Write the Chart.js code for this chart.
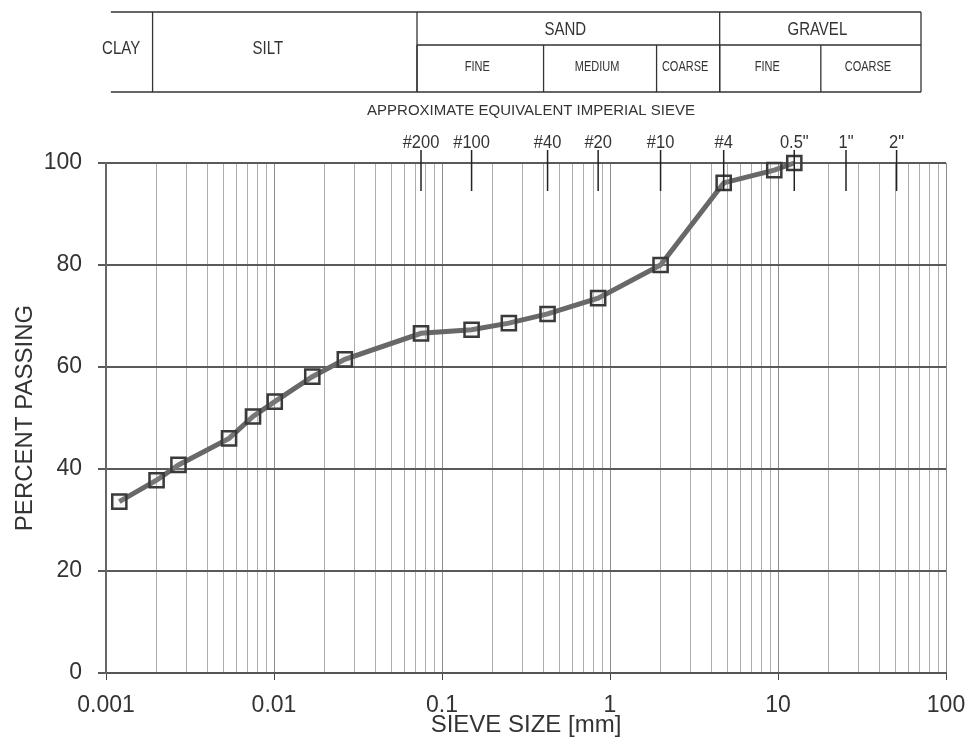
<!DOCTYPE html>
<html>
<head>
<meta charset="utf-8">
<title>Grain size distribution</title>
<script src="https://cdn.jsdelivr.net/npm/chart.js@4.4.1/dist/chart.umd.min.js"></script>
<style>
  html, body { margin: 0; padding: 0; background: #fff; }
  #wrap { width: 967px; height: 737px; }
</style>
</head>
<body>
<div id="wrap"><canvas id="gsd" width="967" height="737"></canvas></div>
<script>
// sieve analysis (sizes in mm, percent passing)
const sieveSizes = [0.0012, 0.002, 0.0027, 0.0054, 0.0075, 0.0101, 0.0169, 0.0264,
                    0.075, 0.15, 0.25, 0.425, 0.85, 2.0, 4.75, 9.5, 12.5];
const percentPassing = [33.6, 37.8, 40.8, 46.0, 50.3, 53.2, 58.1, 61.5,
                        66.6, 67.3, 68.6, 70.4, 73.5, 80.0, 96.1, 98.6, 100];

// x axis decades and their labels
const decadeValues = [0.001, 0.01, 0.1, 1, 10, 100];
const decadeLabels = ['0.001', '0.01', '0.1', '1', '10', '100'];

// imperial sieve marks along the top
const imperialSizes = [0.075, 0.15, 0.425, 0.85, 2.0, 4.75, 12.5, 25.4, 50.8];
const imperialLabels = ['#200', '#100', '#40', '#20', '#10', '#4', '0.5"', '1"', '2"'];

// soil classification header (bounds in mm)
const headerCells = [
  { text: 'CLAY',   from: 0.00113, to: 0.002, row: 'full', at: 0.0013, big: true },
  { text: 'SILT',   from: 0.002,   to: 0.075, row: 'full', at: 0.0097, big: true },
  { text: 'SAND',   from: 0.075,   to: 4.75,  row: 'top',  big: true },
  { text: 'GRAVEL', from: 4.75,    to: 75,    row: 'top',  big: true },
  { text: 'FINE',   from: 0.075,   to: 0.425, row: 'bottom' },
  { text: 'MEDIUM', from: 0.425,   to: 2.0,   row: 'bottom' },
  { text: 'COARSE', from: 2.0,     to: 4.75,  row: 'bottom' },
  { text: 'FINE',   from: 4.75,    to: 19,    row: 'bottom' },
  { text: 'COARSE', from: 19,      to: 75,    row: 'bottom' }
];

const FONT = '"Liberation Sans", Arial, sans-serif';

// minor + major grid positions for the log axis
const gridValues = [];
decadeValues.forEach((d, i) => {
  if (i === decadeValues.length - 1) { gridValues.push(d); return; }
  for (let m = 1; m <= 9; m++) gridValues.push(+(d * m).toPrecision(3));
});

const isDecade = v => Math.abs(Math.log10(v) - Math.round(Math.log10(v))) < 1e-6;

function drawText(ctx, txt, x, y, size, sy) {
  ctx.save();
  ctx.translate(x, y);
  ctx.scale(1, sy || 1);
  ctx.font = size + 'px ' + FONT;
  ctx.textAlign = 'center';
  ctx.textBaseline = 'middle';
  ctx.fillText(txt, 0, 0);
  ctx.restore();
}

const headerPlugin = {
  id: 'soilHeader',
  afterDatasetsDraw(chart) {
    const ctx = chart.ctx;
    const xs = chart.scales.x;
    const shift = -4;
    const px = v => xs.getPixelForValue(v) + shift;
    const yTop = 12, yMid = 45, yBot = 92;

    ctx.save();
    ctx.strokeStyle = '#333';
    ctx.lineWidth = 1.3;
    ctx.fillStyle = '#333';

    const left = px(headerCells[0].from);
    const right = px(75);
    ctx.beginPath();
    ctx.moveTo(left, yTop); ctx.lineTo(right, yTop);
    ctx.moveTo(left, yBot); ctx.lineTo(right, yBot);
    ctx.moveTo(px(0.075), yMid); ctx.lineTo(right, yMid);
    ctx.stroke();

    headerCells.forEach(c => {
      const x0 = px(c.from), x1 = px(c.to);
      const y0 = c.row === 'bottom' ? yMid : yTop;
      if (c.from !== headerCells[0].from) {
        ctx.beginPath();
        ctx.moveTo(x0, y0); ctx.lineTo(x0, yBot);
        ctx.stroke();
      }
      const cx = c.at ? px(c.at) : (x0 + x1) / 2 - 3;
      const cy = c.row === 'full' ? 49 : (c.row === 'top' ? 30 : 67);
      drawText(ctx, c.text, cx, cy, c.big ? 15 : 11, 1.25);
    });
    ctx.beginPath();
    ctx.moveTo(right, yTop); ctx.lineTo(right, yBot);
    ctx.stroke();

    drawText(ctx, 'APPROXIMATE EQUIVALENT IMPERIAL SIEVE', 531, 111, 15, 1);

    // imperial sieve ticks
    ctx.strokeStyle = '#222';
    ctx.lineWidth = 1.5;
    imperialSizes.forEach((s, i) => {
      const x = xs.getPixelForValue(s);
      ctx.beginPath();
      ctx.moveTo(x, 150); ctx.lineTo(x, 191);
      ctx.stroke();
      drawText(ctx, imperialLabels[i], x, 143, 16.5, 1.1);
    });
    ctx.restore();
  }
};

new Chart(document.getElementById('gsd'), {
  type: 'line',
  data: {
    datasets: [{
      data: sieveSizes.map((s, i) => ({ x: s, y: percentPassing[i] })),
      borderColor: '#666869',
      borderWidth: 5,
      pointStyle: 'rect',
      pointRadius: 10,
      pointBorderWidth: 2.5,
      pointBorderColor: '#3a3a3a',
      pointBackgroundColor: 'rgba(200,200,200,0.15)',
      tension: 0,
      clip: false
    }]
  },
  options: {
    responsive: false,
    animation: false,
    layout: { padding: { top: 163, right: 21, left: 0, bottom: 0 } },
    plugins: { legend: { display: false }, tooltip: { enabled: false } },
    scales: {
      x: {
        type: 'logarithmic',
        min: 0.001,
        max: 100,
        afterBuildTicks(scale) {
          scale.ticks = gridValues.map(v => ({ value: v, major: isDecade(v) }));
        },
        afterFit(scale) {
          scale.height = 64;
          scale.paddingLeft = 0;
          scale.paddingRight = 0;
        },
        ticks: {
          autoSkip: false,
          maxRotation: 0,
          padding: 12,
          color: '#333',
          font: { family: FONT, size: 23 },
          callback(v) {
            const i = decadeValues.findIndex(d => Math.abs(d - v) / d < 1e-6);
            return i >= 0 ? decadeLabels[i] : '';
          }
        },
        grid: {
          color: c => (c.tick && isDecade(c.tick.value)) ? '#8c8c8c' : '#adadad',
          lineWidth: 1,
          tickLength: 7,
          tickColor: c => (c.tick && isDecade(c.tick.value)) ? '#444' : 'rgba(0,0,0,0)'
        },
        border: { color: '#555', width: 2 },
        title: {
          display: true,
          text: 'SIEVE SIZE [mm]',
          color: '#333',
          font: { family: FONT, size: 24 },
          padding: { top: 0, bottom: -3 }
        }
      },
      y: {
        min: 0,
        max: 100,
        afterFit(scale) { scale.width = 106; },
        ticks: {
          stepSize: 20,
          padding: 16,
          color: '#333',
          font: { family: FONT, size: 23 }
        },
        grid: { color: '#5a5a5a', lineWidth: 2, tickLength: 8, tickColor: '#5a5a5a' },
        border: { color: '#666', width: 2 },
        title: {
          display: true,
          text: 'PERCENT PASSING',
          color: '#333',
          font: { family: FONT, size: 24 },
          padding: { top: 11, bottom: 0 }
        }
      }
    }
  },
  plugins: [headerPlugin]
});
</script>
</body>
</html>
